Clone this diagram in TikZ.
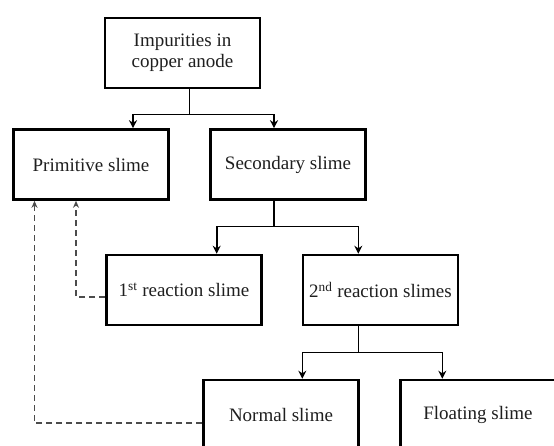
\documentclass[tikz,border=0pt]{standalone}
\usepackage{fontspec}
\setmainfont{Liberation Serif}
\usetikzlibrary{arrows.meta,calc}
\begin{document}
\begin{tikzpicture}[x=1pt,y=-1pt,
  box/.style={draw=black,line width=2.6pt,minimum width=155pt,minimum height=70pt,
    inner sep=0pt,align=center,font=\fontsize{19}{21}\selectfont,text=black!88},
  conn/.style={draw=black,line width=1.6pt,-{Stealth[length=8pt,width=8pt]}},
  dashconn/.style={draw=black!70,line width=1.4pt,dash pattern=on 6pt off 4pt,
    -{Stealth[length=7pt,width=6pt]}}]
\path[use as bounding box,clip] (0,0) rectangle (554,445);
\fill[white] (0,0) rectangle (554,445);
\node[box] (top) at (182.5,53) {Impurities in\\copper anode};
\node[box] (prim) at (91,164.5) {Primitive slime};
\node[box] (sec) at (288,164.5) {Secondary slime};
\node[box] (r1) at (184,290) {1\textsuperscript{st} reaction slime};
\node[box] (r2) at (380.5,290) {2\textsuperscript{nd} reaction slimes};
\node[box] (norm) at (281,415) {Normal slime};
\node[box] (float) at (478,415) {Floating slime};
% tree connectors
\draw[conn] ([xshift=6.8pt]top.south) -- ++(0,-25pt) -| ([xshift=42pt]prim.north);
\draw[conn] ([xshift=6.8pt]top.south) -- ++(0,-25pt) -| ([xshift=-14pt]sec.north);
\draw[conn] ([xshift=-14pt]sec.south) -- ++(0,-25.5pt) -| ([xshift=32.7pt]r1.north);
\draw[conn] ([xshift=-14pt]sec.south) -- ++(0,-25.5pt) -| ([xshift=-22.2pt]r2.north);
\draw[conn] ([xshift=-22.2pt]r2.south) -- ++(0,-26pt) -| ([xshift=21.3pt]norm.north);
\draw[conn] ([xshift=-22.2pt]r2.south) -- ++(0,-26pt) -| ([xshift=-35.7pt]float.north);
% dashed feedback
\draw[dashconn] ([yshift=-7pt]r1.west) -| ([xshift=-15pt]prim.south);
\draw[dashconn] ([yshift=-8pt]norm.west) -| ([xshift=-56.5pt]prim.south);
\end{tikzpicture}
\end{document}
